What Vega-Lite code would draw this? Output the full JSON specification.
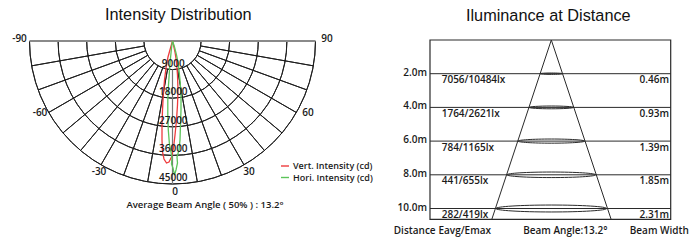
{
  "$schema": "https://vega.github.io/schema/vega-lite/v6.json",
  "width": 700,
  "height": 252,
  "autosize": {"type": "fit", "contains": "padding"},
  "padding": 0,
  "background": "white",
  "config": {
    "view": {"stroke": null},
    "axis": {"disable": true},
    "text": {"font": "Open Sans", "fontWeight": 600, "fontSize": 10, "color": "#1a1a1a"}
  },
  "data": {"values": [{}]},
  "resolve": {"scale": {"x": "independent", "y": "independent"}},
  "layer": [
    {
      "layer": [
        {
          "data": {"values": [{"r": 9000}, {"r": 18000}, {"r": 27000}, {"r": 36000}, {"r": 45000}]},
          "mark": {"type": "arc", "filled": false, "stroke": "#1e1e1e", "strokeWidth": 1},
          "encoding": {
            "x": {"datum": 0, "type": "quantitative", "scale": {"domain": [-54284, 165999], "nice": false, "zero": false}},
            "y": {"datum": 0, "type": "quantitative", "scale": {"domain": [-12902, 66400], "reverse": true, "nice": false, "zero": false}},
            "radius": {"field": "r", "type": "quantitative", "scale": {"type": "linear", "domain": [0, 45000], "range": [0, 143], "zero": true, "nice": false}},
            "radius2": {"field": "r"},
            "theta": {"datum": -90, "type": "quantitative", "scale": {"type": "linear", "domain": [-180, 180], "range": [6.283185307179586, 0], "nice": false, "zero": false}},
            "theta2": {"datum": 90}
          }
        },
        {
          "data": {"values": [{"a": -80}, {"a": -70}, {"a": -60}, {"a": -50}, {"a": -40}, {"a": -30}, {"a": -20}, {"a": -10}, {"a": 10}, {"a": 20}, {"a": 30}, {"a": 40}, {"a": 50}, {"a": 60}, {"a": 70}, {"a": 80}]},
          "mark": {"type": "arc", "filled": false, "stroke": "#1e1e1e", "strokeWidth": 1},
          "encoding": {
            "x": {"datum": 0, "type": "quantitative"},
            "y": {"datum": 0, "type": "quantitative"},
            "radius": {"datum": 45000, "type": "quantitative"},
            "radius2": {"datum": 9000},
            "theta": {"field": "a", "type": "quantitative", "stack": null},
            "theta2": {"field": "a"}
          }
        },
        {
          "mark": {"type": "arc", "filled": false, "stroke": "#777777", "strokeWidth": 1.2},
          "encoding": {
            "x": {"datum": 0, "type": "quantitative"},
            "y": {"datum": 0, "type": "quantitative"},
            "radius": {"datum": 45000, "type": "quantitative"},
            "radius2": {"datum": 9000},
            "theta": {"datum": 0, "type": "quantitative"},
            "theta2": {"datum": 0}
          }
        },
        {
          "mark": {"type": "rule", "stroke": "#8a8a8a", "strokeWidth": 2},
          "encoding": {
            "x": {"datum": -45000, "type": "quantitative"},
            "x2": {"datum": 45000},
            "y": {"datum": 0, "type": "quantitative"}
          }
        },
        {
          "data": {"values": [
            {"s": "Vert. Intensity (cd)", "i": 0, "x": 0, "y": 0},
            {"s": "Vert. Intensity (cd)", "i": 1, "x": -629, "y": 2203},
            {"s": "Vert. Intensity (cd)", "i": 2, "x": -1416, "y": 5035},
            {"s": "Vert. Intensity (cd)", "i": 3, "x": -2045, "y": 8497},
            {"s": "Vert. Intensity (cd)", "i": 4, "x": -2518, "y": 12273},
            {"s": "Vert. Intensity (cd)", "i": 5, "x": -2895, "y": 16993},
            {"s": "Vert. Intensity (cd)", "i": 6, "x": -3147, "y": 21714},
            {"s": "Vert. Intensity (cd)", "i": 7, "x": -3304, "y": 26434},
            {"s": "Vert. Intensity (cd)", "i": 8, "x": -3304, "y": 31154},
            {"s": "Vert. Intensity (cd)", "i": 9, "x": -3147, "y": 34931},
            {"s": "Vert. Intensity (cd)", "i": 10, "x": -2675, "y": 37133},
            {"s": "Vert. Intensity (cd)", "i": 11, "x": -1888, "y": 38392},
            {"s": "Vert. Intensity (cd)", "i": 12, "x": -1101, "y": 38077},
            {"s": "Vert. Intensity (cd)", "i": 13, "x": -315, "y": 36504},
            {"s": "Vert. Intensity (cd)", "i": 14, "x": 315, "y": 33672},
            {"s": "Vert. Intensity (cd)", "i": 15, "x": 787, "y": 29581},
            {"s": "Vert. Intensity (cd)", "i": 16, "x": 1259, "y": 24861},
            {"s": "Vert. Intensity (cd)", "i": 17, "x": 1573, "y": 20140},
            {"s": "Vert. Intensity (cd)", "i": 18, "x": 1731, "y": 15420},
            {"s": "Vert. Intensity (cd)", "i": 19, "x": 1573, "y": 10699},
            {"s": "Vert. Intensity (cd)", "i": 20, "x": 1259, "y": 6608},
            {"s": "Vert. Intensity (cd)", "i": 21, "x": 787, "y": 3462},
            {"s": "Vert. Intensity (cd)", "i": 22, "x": 315, "y": 1259},
            {"s": "Vert. Intensity (cd)", "i": 23, "x": 0, "y": 0},
            {"s": "Hori. Intensity (cd)", "i": 0, "x": 0, "y": 0},
            {"s": "Hori. Intensity (cd)", "i": 1, "x": -315, "y": 2203},
            {"s": "Hori. Intensity (cd)", "i": 2, "x": -629, "y": 5350},
            {"s": "Hori. Intensity (cd)", "i": 3, "x": -944, "y": 9126},
            {"s": "Hori. Intensity (cd)", "i": 4, "x": -1259, "y": 13846},
            {"s": "Hori. Intensity (cd)", "i": 5, "x": -1479, "y": 18567},
            {"s": "Hori. Intensity (cd)", "i": 6, "x": -1479, "y": 23287},
            {"s": "Hori. Intensity (cd)", "i": 7, "x": -1322, "y": 28007},
            {"s": "Hori. Intensity (cd)", "i": 8, "x": -944, "y": 32728},
            {"s": "Hori. Intensity (cd)", "i": 9, "x": -472, "y": 34931},
            {"s": "Hori. Intensity (cd)", "i": 10, "x": -157, "y": 36819},
            {"s": "Hori. Intensity (cd)", "i": 11, "x": -315, "y": 38707},
            {"s": "Hori. Intensity (cd)", "i": 12, "x": 157, "y": 39966},
            {"s": "Hori. Intensity (cd)", "i": 13, "x": 629, "y": 42168},
            {"s": "Hori. Intensity (cd)", "i": 14, "x": 1101, "y": 40595},
            {"s": "Hori. Intensity (cd)", "i": 15, "x": 1573, "y": 38392},
            {"s": "Hori. Intensity (cd)", "i": 16, "x": 1416, "y": 36504},
            {"s": "Hori. Intensity (cd)", "i": 17, "x": 2045, "y": 34301},
            {"s": "Hori. Intensity (cd)", "i": 18, "x": 2360, "y": 31154},
            {"s": "Hori. Intensity (cd)", "i": 19, "x": 2518, "y": 26434},
            {"s": "Hori. Intensity (cd)", "i": 20, "x": 2675, "y": 21714},
            {"s": "Hori. Intensity (cd)", "i": 21, "x": 2675, "y": 16993},
            {"s": "Hori. Intensity (cd)", "i": 22, "x": 2360, "y": 12273},
            {"s": "Hori. Intensity (cd)", "i": 23, "x": 1888, "y": 7553},
            {"s": "Hori. Intensity (cd)", "i": 24, "x": 1259, "y": 4406},
            {"s": "Hori. Intensity (cd)", "i": 25, "x": 629, "y": 1888},
            {"s": "Hori. Intensity (cd)", "i": 26, "x": 0, "y": 0}
          ]},
          "mark": {"type": "line", "strokeWidth": 1.3},
          "encoding": {
            "x": {"field": "x", "type": "quantitative"},
            "y": {"field": "y", "type": "quantitative"},
            "order": {"field": "i", "type": "quantitative"},
            "color": {
              "field": "s", "type": "nominal",
              "scale": {"domain": ["Vert. Intensity (cd)", "Hori. Intensity (cd)"], "range": ["#ee3b3d", "#5cc45a"]},
              "legend": {
                "orient": "none", "legendX": 280, "legendY": 161, "title": null,
                "padding": 0, "symbolType": "stroke", "symbolSize": 64, "symbolStrokeWidth": 1.4,
                "labelFont": "Open Sans", "labelFontWeight": 600, "labelFontSize": 9, "labelColor": "#1a1a1a",
                "labelOffset": 3, "rowPadding": 1.5, "labelLimit": 200
              }
            }
          }
        },
        {
          "data": {"values": [{"r": 9000}, {"r": 18000}, {"r": 27000}, {"r": 36000}, {"r": 45000}]},
          "mark": {"type": "text", "baseline": "bottom", "dy": -1, "fontSize": 10},
          "encoding": {
            "x": {"datum": 252, "type": "quantitative"},
            "y": {"field": "r", "type": "quantitative"},
            "text": {"field": "r", "type": "quantitative", "format": "d"}
          }
        },
        {
          "data": {"values": [
            {"t": "-90", "x": -48148, "y": -629},
            {"t": "90", "x": 48620, "y": -629},
            {"t": "-60", "x": -41696, "y": 22658},
            {"t": "60", "x": 42640, "y": 22658},
            {"t": "-30", "x": -23130, "y": 41224},
            {"t": "30", "x": 24074, "y": 41224},
            {"t": "0", "x": 787, "y": 47518}
          ]},
          "mark": {"type": "text", "baseline": "middle", "align": "center", "fontSize": 10},
          "encoding": {
            "x": {"field": "x", "type": "quantitative"},
            "y": {"field": "y", "type": "quantitative"},
            "text": {"field": "t"}
          }
        },
        {
          "data": {"values": [{"t": "Intensity Distribution", "x": 1825, "y": -8025}]},
          "mark": {"type": "text", "baseline": "middle", "align": "center", "font": "Liberation Sans", "fontWeight": "normal", "fontSize": 16.3, "color": "#111111"},
          "encoding": {
            "x": {"field": "x", "type": "quantitative"},
            "y": {"field": "y", "type": "quantitative"},
            "text": {"field": "t"}
          }
        },
        {
          "data": {"values": [{"t": "Average Beam Angle ( 50% ) : 13.2°", "x": 10227, "y": 51609}]},
          "mark": {"type": "text", "baseline": "middle", "align": "center", "fontSize": 9.5},
          "encoding": {
            "x": {"field": "x", "type": "quantitative"},
            "y": {"field": "y", "type": "quantitative"},
            "text": {"field": "t"}
          }
        }
      ]
    },
    {
      "layer": [
        {
          "mark": {"type": "rect", "filled": false, "stroke": "#2a2a2a", "strokeWidth": 1.2},
          "encoding": {
            "x": {"datum": -7.199, "type": "quantitative", "scale": {"domain": [-32.718, 8.825], "nice": false, "zero": false}},
            "x2": {"datum": 7.086},
            "y": {"datum": 0, "type": "quantitative", "scale": {"domain": [-2.3739, 12.5816], "reverse": true, "nice": false, "zero": false}},
            "y2": {"datum": 10.64}
          }
        },
        {
          "data": {"values": [
            {"d": 2, "dl": "2.0m", "e": "7056/10484lx", "w": "0.46m"},
            {"d": 4, "dl": "4.0m", "e": "1764/2621lx", "w": "0.93m"},
            {"d": 6, "dl": "6.0m", "e": "784/1165lx", "w": "1.39m"},
            {"d": 8, "dl": "8.0m", "e": "441/655lx", "w": "1.85m"},
            {"d": 10, "dl": "10.0m", "e": "282/419lx", "w": "2.31m"}
          ]},
          "layer": [
            {
              "mark": {"type": "rule", "stroke": "#2a2a2a", "strokeWidth": 1},
              "encoding": {
                "x": {"datum": -7.199, "type": "quantitative"},
                "x2": {"datum": 7.086},
                "y": {"field": "d", "type": "quantitative"}
              }
            },
            {
              "mark": {"type": "point", "filled": false, "stroke": "#2a2a2a", "strokeWidth": 1, "opacity": 1,
                "shape": "M -1 0 C -1 -0.0345 -0.5523 -0.0625 0 -0.0625 C 0.5523 -0.0625 1 -0.0345 1 0 C 1 0.0345 0.5523 0.0625 0 0.0625 C -0.5523 0.0625 -1 0.0345 -1 0 Z"},
              "encoding": {
                "x": {"datum": 0, "type": "quantitative"},
                "y": {"field": "d", "type": "quantitative"},
                "size": {"field": "d", "type": "quantitative", "legend": null, "scale": {"type": "pow", "exponent": 2, "domain": [0, 10], "range": [0, 12321]}}
              }
            },
            {
              "mark": {"type": "text", "align": "right", "baseline": "middle", "dx": -3, "dy": -1},
              "encoding": {
                "x": {"datum": -7.199, "type": "quantitative"},
                "y": {"field": "d", "type": "quantitative"},
                "text": {"field": "dl"}
              }
            },
            {
              "mark": {"type": "text", "align": "left", "baseline": "middle", "dy": 6.5},
              "encoding": {
                "x": {"datum": -6.504, "type": "quantitative"},
                "y": {"field": "d", "type": "quantitative"},
                "text": {"field": "e"}
              }
            },
            {
              "mark": {"type": "text", "align": "right", "baseline": "middle", "dy": 6.5},
              "encoding": {
                "x": {"datum": 6.985, "type": "quantitative"},
                "y": {"field": "d", "type": "quantitative"},
                "text": {"field": "w"}
              }
            }
          ]
        },
        {
          "data": {"values": [
            {"x0": 0, "y0": 0, "x1": -3.53, "y1": 10.64},
            {"x0": 0, "y0": 0, "x1": 3.55, "y1": 10.64}
          ]},
          "mark": {"type": "rule", "stroke": "#2a2a2a", "strokeWidth": 1},
          "encoding": {
            "x": {"field": "x0", "type": "quantitative"},
            "y": {"field": "y0", "type": "quantitative"},
            "x2": {"field": "x1"},
            "y2": {"field": "y1"}
          }
        },
        {
          "data": {"values": [
            {"t": "Distance", "x": -8.107, "y": 11.335},
            {"t": "Eavg/Emax", "x": -5.139, "y": 11.335},
            {"t": "Beam Angle:13.2°", "x": 0.831, "y": 11.335},
            {"t": "Beam Width", "x": 6.409, "y": 11.335}
          ]},
          "mark": {"type": "text", "align": "center", "baseline": "middle", "fontSize": 10},
          "encoding": {
            "x": {"field": "x", "type": "quantitative"},
            "y": {"field": "y", "type": "quantitative"},
            "text": {"field": "t"}
          }
        },
        {
          "data": {"values": [{"t": "Iluminance at Distance", "x": -0.178, "y": -1.454}]},
          "mark": {"type": "text", "baseline": "middle", "align": "center", "font": "Liberation Sans", "fontWeight": "normal", "fontSize": 16.3, "color": "#111111"},
          "encoding": {
            "x": {"field": "x", "type": "quantitative"},
            "y": {"field": "y", "type": "quantitative"},
            "text": {"field": "t"}
          }
        }
      ]
    }
  ]
}
